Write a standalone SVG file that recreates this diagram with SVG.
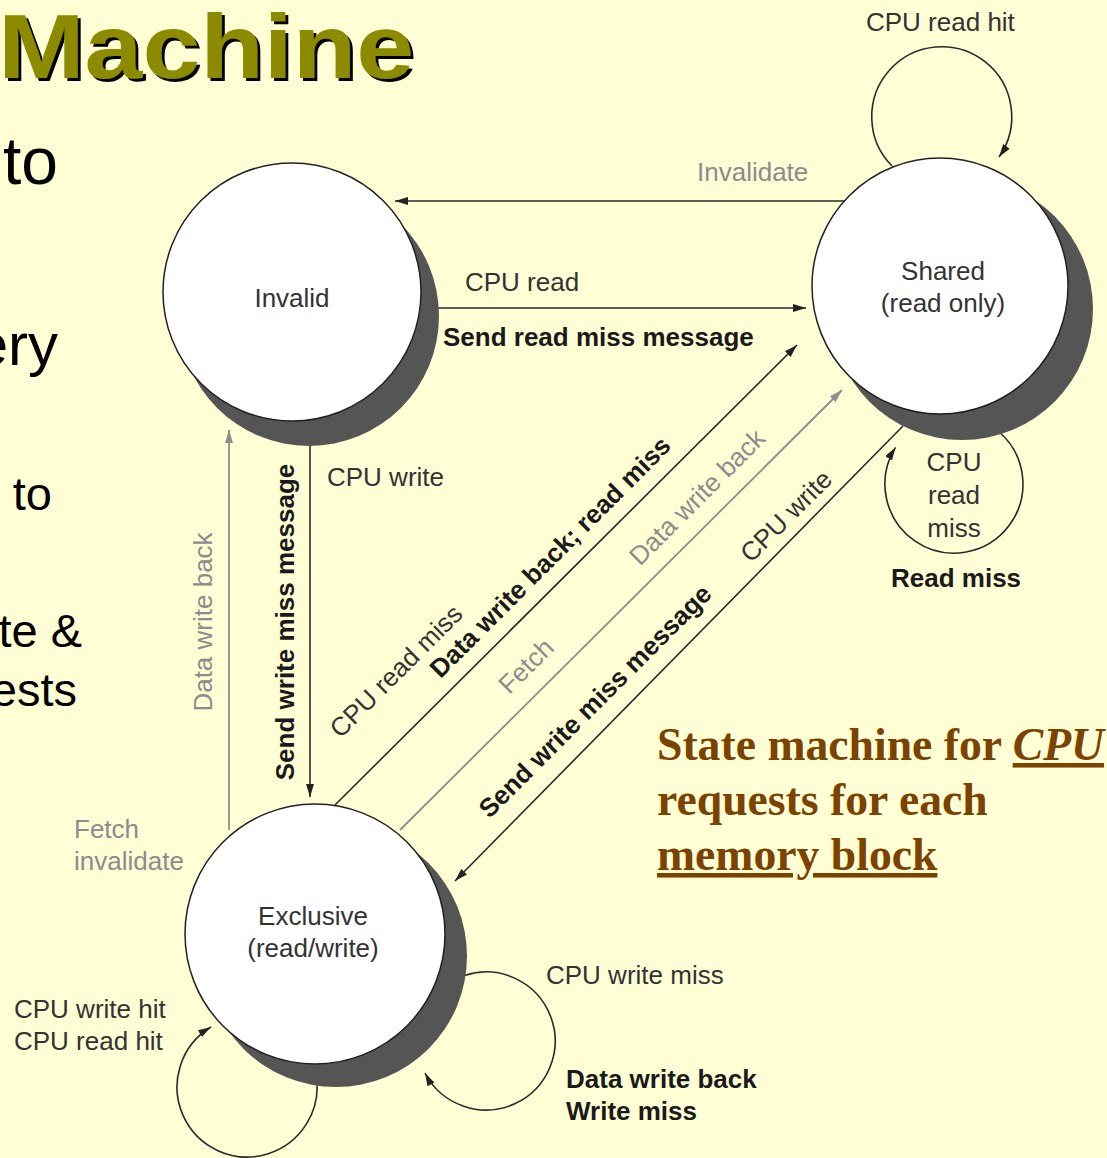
<svg xmlns="http://www.w3.org/2000/svg" width="1107" height="1158" viewBox="0 0 1107 1158">
  <style>
    .lbl { font-family: "Liberation Sans", Arial, sans-serif; font-size: 26px; fill: #333; }
    .bold { font-weight: bold; fill: #1a1a1a; }
    .light { fill: #8c8c8c; }
    .node-shadow { fill: #555; }
    .node-body { fill: #fff; stroke: #222; stroke-width: 1.5; }
    .edge { fill: none; stroke: #2a2a2a; stroke-width: 1.6; }
    .edge-light { fill: none; stroke: #8c8c8c; stroke-width: 1.8; }
    .slide { font-family: "Liberation Sans", Arial, sans-serif; fill: #000; }
    .caption { font-family: "Liberation Serif", "Times New Roman", serif; font-weight: bold; font-size: 45.7px; fill: #7b4200; }
  </style>
  <defs>
    <marker id="ah" markerUnits="userSpaceOnUse" markerWidth="14" markerHeight="10" refX="13" refY="4" orient="auto">
      <path d="M0,0 L13,4 L0,8 z" fill="#222"/>
    </marker>
    <marker id="ah-light" markerUnits="userSpaceOnUse" markerWidth="14" markerHeight="10" refX="13" refY="4" orient="auto">
      <path d="M0,0 L13,4 L0,8 z" fill="#8c8c8c"/>
    </marker>
    <!-- hard black drop shadow for the title -->
    <filter id="title-shadow" x="-5%" y="-10%" width="115%" height="130%">
      <feFlood flood-color="#000" result="ink"/>
      <feComposite in="ink" in2="SourceAlpha" operator="in" result="mask"/>
      <feOffset in="mask" dx="3" dy="3" result="drop"/>
      <feMerge>
        <feMergeNode in="drop"/>
        <feMergeNode in="SourceGraphic"/>
      </feMerge>
    </filter>
  </defs>

  <!-- slide background -->
  <rect x="0" y="0" width="1107" height="1158" fill="#fffed5"/>

  <!-- slide title fragment -->
  <g id="title" font-family="'Liberation Sans', Arial, sans-serif" font-weight="bold" font-size="91">
    <text x="-2" y="78" fill="#8c8b00" textLength="416" lengthAdjust="spacingAndGlyphs" filter="url(#title-shadow)">Machine</text>
  </g>

  <!-- bullet text fragments at the left edge -->
  <g id="bullets" class="slide">
    <text x="58" y="184" font-size="66" text-anchor="end">to</text>
    <text x="58" y="365" font-size="60" text-anchor="end">ery</text>
    <text x="52" y="510" font-size="47" text-anchor="end">to</text>
    <text x="82" y="647" font-size="47" text-anchor="end">te &amp;</text>
    <text x="77" y="706" font-size="47" text-anchor="end">ests</text>
  </g>

  <!-- transitions -->
  <g id="connectors">
    <!-- Shared -> Invalid -->
    <path class="edge" d="M850,201 L395,201" marker-end="url(#ah)"/>
    <!-- Invalid -> Shared -->
    <path class="edge" d="M432,308 L806,308" marker-end="url(#ah)"/>
    <!-- Invalid -> Exclusive -->
    <path class="edge" d="M310,440 L310,797" marker-end="url(#ah)"/>
    <!-- Exclusive -> Invalid -->
    <path class="edge-light" d="M229,830 L229,430" marker-end="url(#ah-light)"/>
    <!-- Exclusive -> Shared (read miss) -->
    <path class="edge" d="M335,805 L797,345" marker-end="url(#ah)"/>
    <!-- Exclusive -> Shared (fetch) -->
    <path class="edge-light" d="M400,830 L842,390" marker-end="url(#ah-light)"/>
    <!-- Shared -> Exclusive -->
    <path class="edge" d="M903,426 L455,881" marker-end="url(#ah)"/>
    <!-- self loops -->
    <path class="edge" d="M892,166 A70,70 0 1 1 999,157" marker-end="url(#ah)"/>
    <path class="edge" d="M998,431 A69,69 0 1 1 895.5,447.4" marker-end="url(#ah)"/>
    <path class="edge" d="M316,1075 A70,70 0 1 1 211,1027" marker-end="url(#ah)"/>
    <path class="edge" d="M464.7,975.4 A69,69 0 1 1 425,1073" marker-end="url(#ah)"/>

    <!-- transition labels -->
    <text class="lbl" x="866" y="31">CPU read hit</text>
    <text class="lbl light" x="697" y="181">Invalidate</text>
    <text class="lbl" x="465" y="291">CPU read</text>
    <text class="lbl bold" x="443" y="346">Send read miss message</text>
    <text class="lbl" x="327" y="486">CPU write</text>
    <text class="lbl bold" transform="translate(285,622) rotate(-90)" y="9" text-anchor="middle">Send write miss message</text>
    <text class="lbl light" transform="translate(203,622) rotate(-90)" y="9" text-anchor="middle">Data write back</text>
    <text class="lbl" transform="translate(396,671) rotate(-45)" y="9" text-anchor="middle">CPU read miss</text>
    <text class="lbl bold" transform="translate(550,557) rotate(-45)" y="9" text-anchor="middle">Data write back; read miss</text>
    <text class="lbl light" transform="translate(526,666) rotate(-45)" y="9" text-anchor="middle">Fetch</text>
    <text class="lbl light" transform="translate(697,497) rotate(-45)" y="9" text-anchor="middle">Data write back</text>
    <text class="lbl bold" transform="translate(595,701) rotate(-45)" y="9" text-anchor="middle">Send write miss message</text>
    <text class="lbl" transform="translate(786,516) rotate(-45)" y="9" text-anchor="middle">CPU write</text>
    <text class="lbl" x="954" y="471" text-anchor="middle">CPU</text>
    <text class="lbl" x="954" y="504" text-anchor="middle">read</text>
    <text class="lbl" x="954" y="537" text-anchor="middle">miss</text>
    <text class="lbl bold" x="891" y="587">Read miss</text>
    <text class="lbl light" x="74" y="838">Fetch</text>
    <text class="lbl light" x="74" y="870">invalidate</text>
    <text class="lbl" x="14" y="1018">CPU write hit</text>
    <text class="lbl" x="14" y="1050">CPU read hit</text>
    <text class="lbl" x="546" y="984">CPU write miss</text>
    <text class="lbl bold" x="566" y="1088">Data write back</text>
    <text class="lbl bold" x="566" y="1120">Write miss</text>
  </g>

  <!-- states -->
  <g id="node-invalid">
    <circle class="node-shadow" cx="309" cy="316" r="130"/>
    <circle class="node-body" cx="292" cy="292" r="129"/>
    <text class="lbl" x="292" y="307" text-anchor="middle">Invalid</text>
  </g>
  <g id="node-shared">
    <circle class="node-shadow" cx="962" cy="309" r="131"/>
    <circle class="node-body" cx="940" cy="286" r="128"/>
    <text class="lbl" x="943" y="280" text-anchor="middle">Shared</text>
    <text class="lbl" x="943" y="312" text-anchor="middle">(read only)</text>
  </g>
  <g id="node-exclusive">
    <circle class="node-shadow" cx="336" cy="956" r="131"/>
    <circle class="node-body" cx="315" cy="934" r="130"/>
    <text class="lbl" x="313" y="925" text-anchor="middle">Exclusive</text>
    <text class="lbl" x="313" y="957" text-anchor="middle">(read/write)</text>
  </g>

  <!-- caption -->
  <g id="caption" class="caption">
    <text x="657" y="760">State machine for <tspan font-style="italic" text-decoration="underline">CPU</tspan></text>
    <text x="657" y="815">requests for each</text>
    <text x="657" y="870" text-decoration="underline">memory block</text>
  </g>
</svg>
